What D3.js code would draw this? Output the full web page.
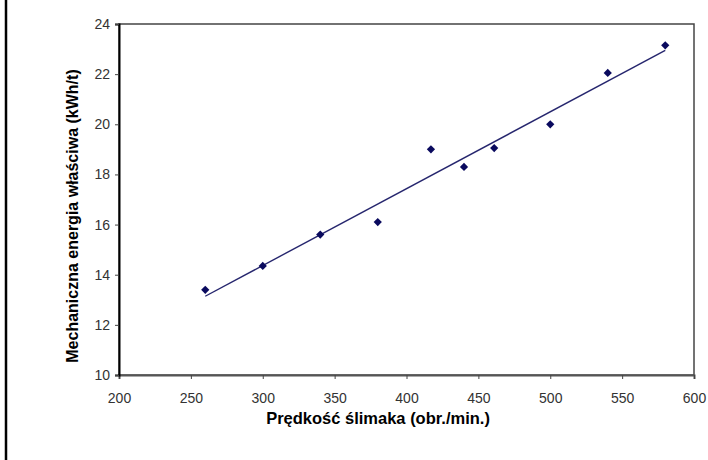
<html>
<head>
  <title>Energia a predkosc slimaka</title>
  <script src='https://cdn.jsdelivr.net/npm/d3@7/dist/d3.min.js'></script>
  <style>
    body { margin: 0; background: #fff; }
    text { font-family: "Liberation Sans", Arial, sans-serif; }
  </style>
</head>
<body>
<script>

var speed  = [260, 300, 340, 380, 417, 440, 461, 500, 540, 580];
var energy = [13.4, 14.35, 15.6, 16.1, 19.0, 18.3, 19.05, 20.0, 22.05, 23.15];

var xTicks = [200, 250, 300, 350, 400, 450, 500, 550, 600];
var yTicks = [10, 12, 14, 16, 18, 20, 22, 24];

var width = 708,
    height = 460;

var margin = {top: 24, right: 14, bottom: 85, left: 119};

var pw = width - margin.left - margin.right,
    ph = height - margin.top - margin.bottom;

var x = d3.scaleLinear().domain([200, 600]).range([0, pw]),
    y = d3.scaleLinear().domain([10, 24]).range([ph, 0]);

var svg = d3.select('body')
            .append('svg')
            .attr('width', width)
            .attr('height', height);

// left edge of the outer frame
svg.append('line')
   .attr('x1', 6).attr('x2', 6)
   .attr('y1', 0).attr('y2', height)
   .attr('stroke', 'black')
   .attr('stroke-width', 2.5);

var g = svg.append('g')
           .attr('transform', 'translate(' + margin.left + ',' + margin.top + ')');

g.append('rect')
 .attr('width', pw)
 .attr('height', ph)
 .attr('fill', 'white')
 .attr('stroke', '#444')
 .attr('stroke-width', 1.5);

var xAxis = g.append('g')
             .attr('transform', 'translate(0,' + ph + ')')
             .call(d3.axisBottom(x).tickValues(xTicks).tickSize(4).tickPadding(14));

var yAxis = g.append('g')
             .call(d3.axisLeft(y).tickValues(yTicks).tickSize(4).tickPadding(5));

xAxis.select('.domain').attr('stroke', '#555').attr('stroke-width', 2);
yAxis.select('.domain').attr('stroke', 'black').attr('stroke-width', 2);

g.selectAll('.tick line').attr('stroke', '#444');
g.selectAll('.tick text')
 .attr('fill', '#333')
 .style('font-size', '14px')
 .style('font-family', '"Liberation Sans", Arial, sans-serif');

// linear trend line (least squares)
var mx = d3.mean(speed), my = d3.mean(energy);
var sxy = d3.sum(speed, function(d, i) { return (d - mx) * (energy[i] - my); });
var sxx = d3.sum(speed, function(d) { return (d - mx) * (d - mx); });
var slope = sxy / sxx, icpt = my - slope * mx;
var x0 = d3.min(speed), x1 = d3.max(speed);

g.append('line')
 .attr('x1', x(x0)).attr('y1', y(icpt + slope * x0))
 .attr('x2', x(x1)).attr('y2', y(icpt + slope * x1))
 .attr('stroke', '#26266e')
 .attr('stroke-width', 1.4);

g.selectAll('.pt')
 .data(speed)
 .enter()
 .append('path')
 .attr('class', 'pt')
 .attr('d', d3.symbol().type(d3.symbolSquare).size(34))
 .attr('transform', function(d, i) { return 'translate(' + x(d) + ',' + y(energy[i]) + ') rotate(45)'; })
 .attr('fill', '#0a0a5e');

g.append('text')
 .attr('x', 378 - margin.left)
 .attr('y', ph + 49)
 .attr('text-anchor', 'middle')
 .style('font-size', '16.5px')
 .style('font-weight', 'bold')
 .text('Prędkość ślimaka (obr./min.)');

g.append('text')
 .attr('transform', 'translate(' + (78 - margin.left) + ',' + (216 - margin.top) + ') rotate(-90)')
 .attr('text-anchor', 'middle')
 .style('font-size', '16px')
 .style('font-weight', 'bold')
 .text('Mechaniczna energia właściwa (kWh/t)');

</script>
</body>
</html>
